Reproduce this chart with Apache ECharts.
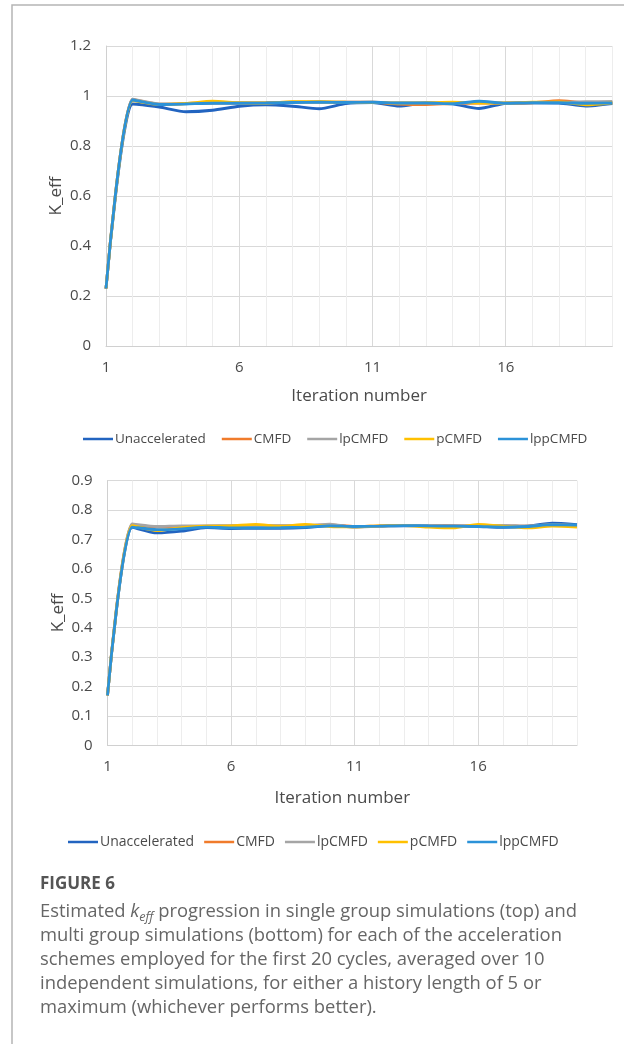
<!DOCTYPE html>
<html>
<head>
<meta charset="utf-8">
<script src="https://cdn.jsdelivr.net/npm/echarts@6/dist/echarts.min.js"></script>
<style>
html,body{margin:0;padding:0;background:#fff;}
#c{width:624px;height:1044px;}
</style>
</head>
<body>
<div id="c"></div>
<script>
// ---- data ----
var iterations = ['1','2','3','4','5','6','7','8','9','10','11','12','13','14','15','16','17','18','19','20'];
var seriesNames = ['Unaccelerated','CMFD','lpCMFD','pCMFD','lppCMFD'];

// single group (top)
var unaccTop  = [0.23,0.968,0.956,0.937,0.943,0.959,0.965,0.959,0.949,0.970,0.974,0.960,0.972,0.969,0.950,0.971,0.973,0.972,0.960,0.970];
var cmfdTop   = [0.23,0.986,0.967,0.970,0.972,0.972,0.973,0.975,0.976,0.975,0.975,0.968,0.966,0.970,0.972,0.971,0.973,0.981,0.973,0.973];
var lpcmfdTop = [0.23,0.987,0.968,0.970,0.972,0.973,0.972,0.975,0.975,0.975,0.975,0.972,0.973,0.970,0.976,0.971,0.973,0.974,0.977,0.978];
var pcmfdTop  = [0.23,0.982,0.966,0.970,0.979,0.973,0.972,0.977,0.977,0.975,0.974,0.972,0.973,0.975,0.972,0.972,0.975,0.976,0.965,0.973];
var lppTop    = [0.23,0.984,0.966,0.968,0.971,0.971,0.972,0.974,0.975,0.974,0.975,0.972,0.972,0.969,0.979,0.971,0.973,0.973,0.971,0.972];

// multi group (bottom)
var unaccBot  = [0.17,0.741,0.722,0.728,0.740,0.737,0.738,0.738,0.740,0.746,0.744,0.745,0.747,0.746,0.746,0.744,0.741,0.745,0.755,0.750];
var cmfdBot   = [0.17,0.750,0.742,0.744,0.745,0.746,0.748,0.746,0.747,0.749,0.744,0.746,0.747,0.747,0.746,0.746,0.747,0.745,0.750,0.747];
var lpcmfdBot = [0.17,0.753,0.744,0.746,0.746,0.747,0.747,0.747,0.747,0.752,0.741,0.745,0.747,0.748,0.746,0.747,0.748,0.746,0.750,0.748];
var pcmfdBot  = [0.17,0.747,0.730,0.740,0.745,0.746,0.751,0.745,0.751,0.744,0.743,0.746,0.747,0.742,0.739,0.751,0.745,0.739,0.745,0.742];
var lppBot    = [0.17,0.742,0.733,0.736,0.742,0.739,0.739,0.740,0.742,0.746,0.744,0.745,0.747,0.746,0.745,0.744,0.742,0.744,0.750,0.749];

var yTicksTop = {min:0, max:1.2, interval:0.2};
var yTicksBot = {min:0, max:0.9, interval:0.1};
var xAxisTitle = 'Iteration number';
var yAxisTitle = 'K_eff';
var figureLabel = 'FIGURE 6';

// ---- styles ----
var colors = ['#2264c0','#f07b2b','#a5a5a5','#ffc000','#2b92d8'];
var FONT = 'Open Sans';
var txt = '#4a4a4a';
var gridMajor = '#d9d9d9';
var gridMinor = '#ededed';

function xAxisCfg(gridIndex, nameGap){
  return {
    type:'category', gridIndex:gridIndex, data:iterations, boundaryGap:false,
    axisLine:{show:true, lineStyle:{color:'#d0d0d0', width:1}},
    axisTick:{show:false},
    axisLabel:{interval:4, color:txt, fontFamily:FONT, fontSize:15, margin:14},
    splitLine:{show:true, interval:0, lineStyle:{color:[gridMajor,gridMinor,gridMinor,gridMinor,gridMinor], width:1}},
    name:xAxisTitle, nameLocation:'middle', nameGap:nameGap, nameMoveOverlap:false,
    nameTextStyle:{color:txt, fontFamily:FONT, fontSize:17}
  };
}
function yAxisCfg(gridIndex, t, nameGap){
  return {
    type:'value', gridIndex:gridIndex, min:t.min, max:t.max, interval:t.interval,
    axisLine:{show:true, lineStyle:{color:'#d0d0d0', width:1}},
    axisTick:{show:false},
    axisLabel:{color:txt, fontFamily:FONT, fontSize:15, margin:15},
    splitLine:{show:true, lineStyle:{color:gridMajor, width:1}},
    name:yAxisTitle, nameLocation:'middle', nameGap:nameGap, nameMoveOverlap:false,
    nameTextStyle:{color:txt, fontFamily:FONT, fontSize:17}
  };
}
function mkSeries(name, data, idx, gi){
  return {
    name:name, type:'line', xAxisIndex:gi, yAxisIndex:gi, data:data,
    smooth:0.22, symbol:'none', z: 2+idx,
    lineStyle:{color:colors[idx], width:2.8},
    itemStyle:{color:colors[idx]},
    animation:false
  };
}
var topData = [unaccTop, cmfdTop, lpcmfdTop, pcmfdTop, lppTop];
var botData = [unaccBot, cmfdBot, lpcmfdBot, pcmfdBot, lppBot];
var series = [];
seriesNames.forEach(function(n,i){ series.push(mkSeries(n, topData[i], i, 0)); });
seriesNames.forEach(function(n,i){ series.push(mkSeries(n, botData[i], i, 1)); });

function legendCfg(left, top, gap, fs){
  return {
    data:seriesNames, left:left, top:top, itemGap:gap, icon:'rect',
    itemWidth:30, itemHeight:2.5, selectedMode:false,
    textStyle:{color:txt, fontFamily:FONT, fontSize:fs, lineHeight:16, padding:[0,0,0,-3]}
  };
}

var chart = echarts.init(document.getElementById('c'), null, {renderer:'canvas'});
chart.setOption({
  animation:false,
  backgroundColor:'#ffffff',
  color:colors,
  grid:[
    {left:106, top:46, width:506.3, height:300, containLabel:false},
    {left:107.5, top:480.6, width:469.5, height:264.7, containLabel:false}
  ],
  xAxis:[xAxisCfg(0,42), xAxisCfg(1,44)],
  yAxis:[yAxisCfg(0,yTicksTop,41), yAxisCfg(1,yTicksBot,41)],
  legend:[legendCfg(78,426,16,13.5), legendCfg(63,829,10,14)],
  series:series,
  graphic:[
    {type:'polyline', shape:{points:[[12,1044],[12,5],[624,5]]}, style:{stroke:'#b5b5b5', lineWidth:1.5, fill:null}, silent:true},
    {type:'text', left:40, top:876, style:{text:figureLabel, font:'bold 17px "Open Sans"', fill:'#555555'}},
    {type:'text', left:40, top:900, style:{
      text:'{n|Estimated }{k|k}{s|eff}{n| progression in single group simulations (top) and}\n'+
           '{n|multi group simulations (bottom) for each of the acceleration}\n'+
           '{n|schemes employed for the first 20 cycles, averaged over 10}\n'+
           '{n|independent simulations, for either a history length of 5 or}\n'+
           '{n|maximum (whichever performs better).}',
      fill:'#666666', fontFamily:FONT, fontSize:18.4, lineHeight:24,
      rich:{
        n:{fontFamily:FONT, fontSize:18.4, lineHeight:24, fill:'#666666'},
        k:{fontFamily:FONT, fontSize:18.4, fontStyle:'italic', lineHeight:24, fill:'#666666'},
        s:{fontFamily:FONT, fontSize:12.5, fontStyle:'italic', lineHeight:14, verticalAlign:'bottom', fill:'#666666'}
      }
    }}
  ]
});
</script>
</body>
</html>
